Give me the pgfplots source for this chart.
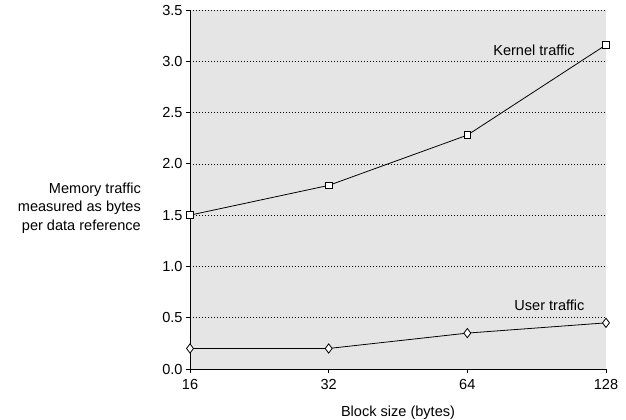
\documentclass[border=0pt]{standalone}
\usepackage{fontspec}
\setmainfont{Liberation Sans}
\usepackage{pgfplots}
\pgfplotsset{compat=1.18}

\begin{document}
\begin{tikzpicture}[font=\fontsize{14.6}{18.5}\selectfont]
\begin{axis}[
  at={(0,0)}, anchor=south west,
  scale only axis,
  width=416bp, height=359bp,
  xmode=log, log basis x=2,
  xmin=16, xmax=128,
  ymin=0, ymax=3.5,
  xtick={16,32,64,128},
  xticklabels={16,32,64,128},
  ytick={0,0.5,1,1.5,2,2.5,3,3.5},
  yticklabel style={/pgf/number format/.cd, fixed, fixed zerofill, precision=1},
  ticklabel style={font=\fontsize{14.6}{17}\selectfont},
  xticklabel style={yshift=-3bp},
  /pgf/number format/assume math mode=true,
  axis lines*=left,
  axis line style={black, line width=1pt},
  tick align=outside,
  major tick length=4bp,
  tick style={black, line width=0.8pt},
  ymajorgrids,
  grid style={black, line width=0.6pt, dash pattern=on 0.8bp off 2.2bp},
  axis background/.style={fill=gray!20},
  xlabel={Block size (bytes)},
  xlabel style={yshift=-9bp, font=\fontsize{14.6}{17}\selectfont},
  clip=false,
]
% kernel traffic
\addplot[black, line width=0.8pt, mark=square*, mark size=3.3bp,
  mark options={fill=white, solid, line width=0.8pt}]
  coordinates {(16,1.50) (32,1.79) (64,2.28) (128,3.16)};
% user traffic
\addplot[black, line width=0.8pt, mark=diamond*, mark size=4.6bp,
  mark options={fill=white, solid, line width=0.8pt}]
  coordinates {(16,0.20) (32,0.20) (64,0.35) (128,0.45)};
\node at (rel axis cs:0.827,0.889) {Kernel traffic};
\node at (rel axis cs:0.864,0.178) {User traffic};
\end{axis}
\node[anchor=east, align=right, inner sep=0pt] at (-49bp,161bp)
  {Memory traffic\\measured as bytes\\per data reference};
\pgfresetboundingbox
\path[use as bounding box] (-190bp,-51bp) rectangle (436bp,369bp);
\end{tikzpicture}
\end{document}
